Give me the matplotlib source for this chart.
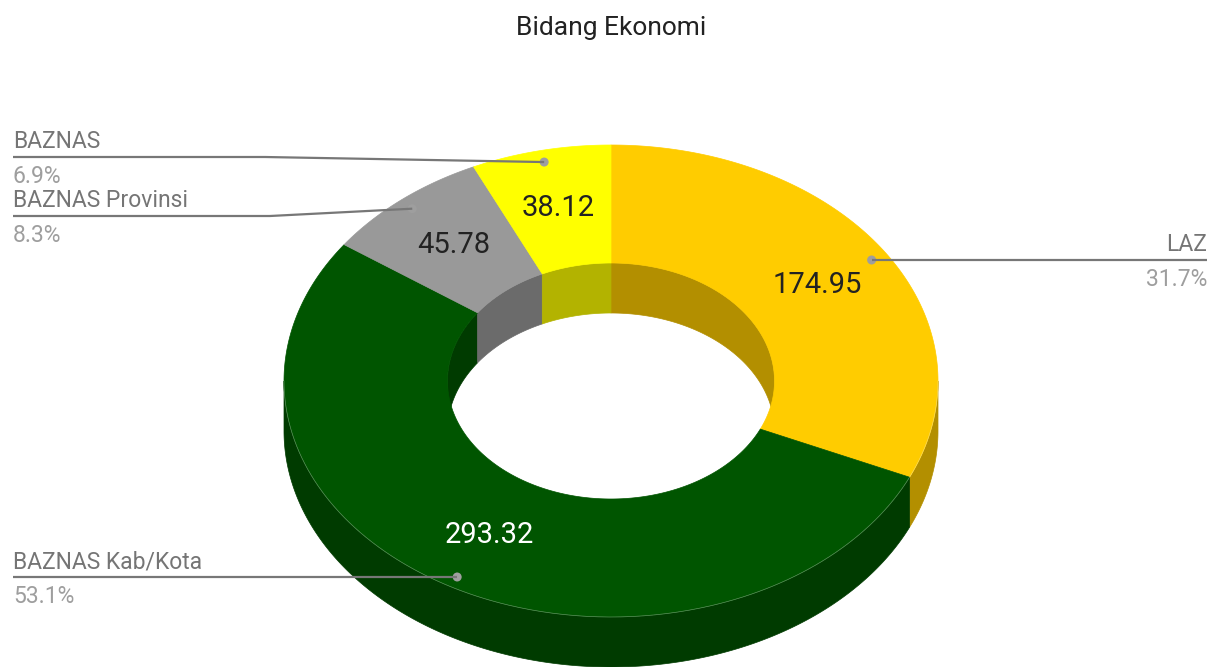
import numpy as np
import matplotlib
matplotlib.use("Agg")
import matplotlib.pyplot as plt
from matplotlib.patches import Polygon, Circle

plt.rcParams["font.family"] = ["Roboto", "DejaVu Sans"]

# Données
title = "Bidang Ekonomi"
names = ["LAZ", "BAZNAS Kab/Kota", "BAZNAS Provinsi", "BAZNAS"]
values = [174.95, 293.32, 45.78, 38.12]
colors = ["#FFCC00", "#005500", "#999999", "#FFFF00"]
label_colors = ["#222222", "#FFFFFF", "#222222", "#222222"]

# géométrie (pixels)
W, H = 1219, 667
cx, cy = 611, 381
a, b = 327, 236
hole = 0.5
depth = 50


def darker(c, f=0.7):
    r, g, bb = matplotlib.colors.to_rgb(c)
    return (r * f, g * f, bb * f)


def pt(theta, r=1.0, dy=0.0):
    t = np.radians(theta)
    return cx + r * a * np.sin(t), cy - r * b * np.cos(t) + dy


def arc(t0, t1, r=1.0, dy=0.0):
    n = max(int(abs(t1 - t0)) * 2, 2)
    t = np.linspace(t0, t1, n)
    x, y = pt(t, r, dy)
    return np.column_stack([x, y])


def overlap(t0, t1, lo, hi):
    s, e = max(t0, lo), min(t1, hi)
    return (s, e) if e > s else None


fig = plt.figure(figsize=(W / 100, H / 100), dpi=100)
ax = fig.add_axes([0, 0, 1, 1])
ax.set_xlim(0, W)
ax.set_ylim(H, 0)
ax.axis("off")

total = sum(values)
bounds = np.concatenate([[0], np.cumsum(values) / total * 360])

# parois extérieures (moitié avant)
for i, c in enumerate(colors):
    seg = overlap(bounds[i], bounds[i + 1], 90, 270)
    if seg:
        top = arc(seg[0], seg[1], 1.0)
        bot = arc(seg[1], seg[0], 1.0, depth)
        ax.add_patch(Polygon(np.vstack([top, bot]), closed=True,
                             fc=darker(c), ec=darker(c), lw=0.5))

# parois intérieures (moitié arrière, vues par le trou)
for i, c in enumerate(colors):
    for lo, hi in [(0, 90), (270, 360)]:
        seg = overlap(bounds[i], bounds[i + 1], lo, hi)
        if seg:
            top = arc(seg[0], seg[1], hole)
            bot = arc(seg[1], seg[0], hole, depth)
            ax.add_patch(Polygon(np.vstack([top, bot]), closed=True,
                                 fc=darker(c), ec=darker(c), lw=0.5))

# face supérieure
for i, c in enumerate(colors):
    outer = arc(bounds[i], bounds[i + 1], 1.0)
    inner = arc(bounds[i + 1], bounds[i], hole)
    ax.add_patch(Polygon(np.vstack([outer, inner]), closed=True,
                         fc=c, ec=c, lw=0.5))

# liseré clair du bord avant
edge = arc(90, 270, 1.0)
ax.plot(edge[:, 0], edge[:, 1], color="white", lw=0.5, alpha=0.35)

# valeurs dans les parts
for i, v in enumerate(values):
    mid = (bounds[i] + bounds[i + 1]) / 2
    x, y = pt(mid, (1 + hole) / 2)
    ax.text(x, y, f"{v:.2f}", ha="center", va="center",
            fontsize=21, color=label_colors[i])

# légendes avec lignes
legend = {
    "LAZ": dict(x=1207, y=260, ha="right", bend=None),
    "BAZNAS Kab/Kota": dict(x=13, y=577, ha="left", bend=None),
    "BAZNAS Provinsi": dict(x=13, y=216, ha="left", bend=270),
    "BAZNAS": dict(x=13, y=157, ha="left", bend=265),
}
for i, name in enumerate(names):
    mid = (bounds[i] + bounds[i + 1]) / 2
    dx, dy_ = pt(mid, 0.95)
    L = legend[name]
    if L["bend"] is None:
        xs, ys = [L["x"], dx], [L["y"], L["y"]]
        dy_ = L["y"]
    else:
        xs, ys = [L["x"], L["bend"], dx], [L["y"], L["y"], dy_]
    ax.plot(xs, ys, color="#777777", lw=1.6, solid_capstyle="butt")
    ax.add_patch(Circle((dx, dy_), 4.5, fc="#9E9E9E", ec="none"))
    pct = values[i] / total * 100
    ax.text(L["x"], L["y"] - 9, name, ha=L["ha"], va="baseline",
            fontsize=16.5, color="#757575")
    ax.text(L["x"], L["y"] + 26, f"{pct:.1f}%", ha=L["ha"], va="baseline",
            fontsize=16.5, color="#9E9E9E")

ax.text(611, 28, title, ha="center", va="center", fontsize=19, color="#222222")

fig.savefig("out.png", dpi=100)
